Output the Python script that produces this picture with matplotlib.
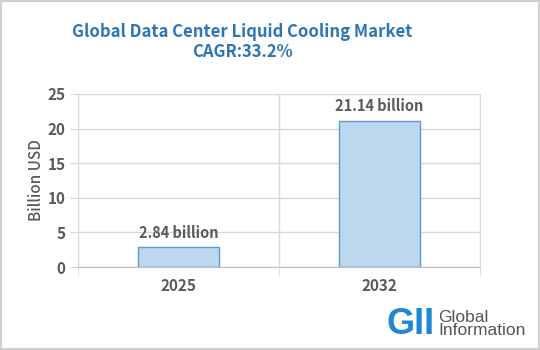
import matplotlib.pyplot as plt
from matplotlib.patches import Rectangle

plt.rcParams["font.family"] = ["Noto Sans CJK JP", "DejaVu Sans"]

# data
years = ["2025", "2032"]
values = [2.84, 21.14]
value_labels = ["2.84 billion", "21.14 billion"]
title = "Global Data Center Liquid Cooling Market\nCAGR:33.2%"

gray = "#595959"
grid = "#d9d9d9"

fig = plt.figure(figsize=(5.4, 3.5), dpi=100)
ax = fig.add_axes([78 / 540, 1 - 267 / 350, (480 - 78) / 540, (267 - 94) / 350])

x = range(len(years))
ax.bar(x, values, width=0.4, color="#bdd7ee", edgecolor="#5b9bd5", linewidth=1, zorder=3)
for i, v in enumerate(values):
    ax.text(i, v + 0.9, value_labels[i], ha="center", va="bottom",
            fontsize=10.5, fontweight="bold", color=gray)

ax.set_xlim(-0.5, len(years) - 0.5)
ax.set_ylim(0, 25)
ax.set_yticks(range(0, 26, 5))
ax.set_xticks(list(x))
ax.set_xticklabels(years)
ax.set_xticks([-0.5, 0.5, 1.5], minor=True)
ax.grid(axis="y", color=grid, linewidth=1, zorder=0)
ax.grid(axis="x", which="minor", color=grid, linewidth=1, zorder=0)
ax.tick_params(axis="x", which="major", length=0, pad=8, labelsize=11, labelcolor=gray)
ax.tick_params(axis="x", which="minor", length=6, color=grid)
ax.tick_params(axis="y", length=6, color=grid, labelsize=11, labelcolor=gray, pad=3)
for lab in ax.get_xticklabels() + ax.get_yticklabels():
    lab.set_fontweight("bold")
for s in ax.spines.values():
    s.set_color(grid)
ax.spines["bottom"].set_color("#bfbfbf")
ax.set_ylabel("Billion USD", fontsize=11, color=gray, labelpad=2, fontweight="medium")

fig.text(242 / 540, 1 - 42 / 350, title, ha="center", va="center",
         fontsize=12, fontweight="bold", color="#2e75b6", linespacing=1.1)

# outer border
fig.patches.append(Rectangle((0, 0), 1, 1, transform=fig.transFigure,
                             fill=False, edgecolor="#d0d0d0", linewidth=3))

# logo
fig.text(387 / 540, 1 - 325 / 350, "GII", ha="left", va="center",
         fontsize=26, fontweight="bold", color="#1e88d6", family=["Liberation Sans"])
fig.text(438 / 540, 1 - 324 / 350, "Global\nInformation", ha="left", va="center",
         fontsize=12.5, color="#555555", fontweight="medium", linespacing=0.9,
         family=["Liberation Sans"])

fig.savefig("out.png", dpi=100)
